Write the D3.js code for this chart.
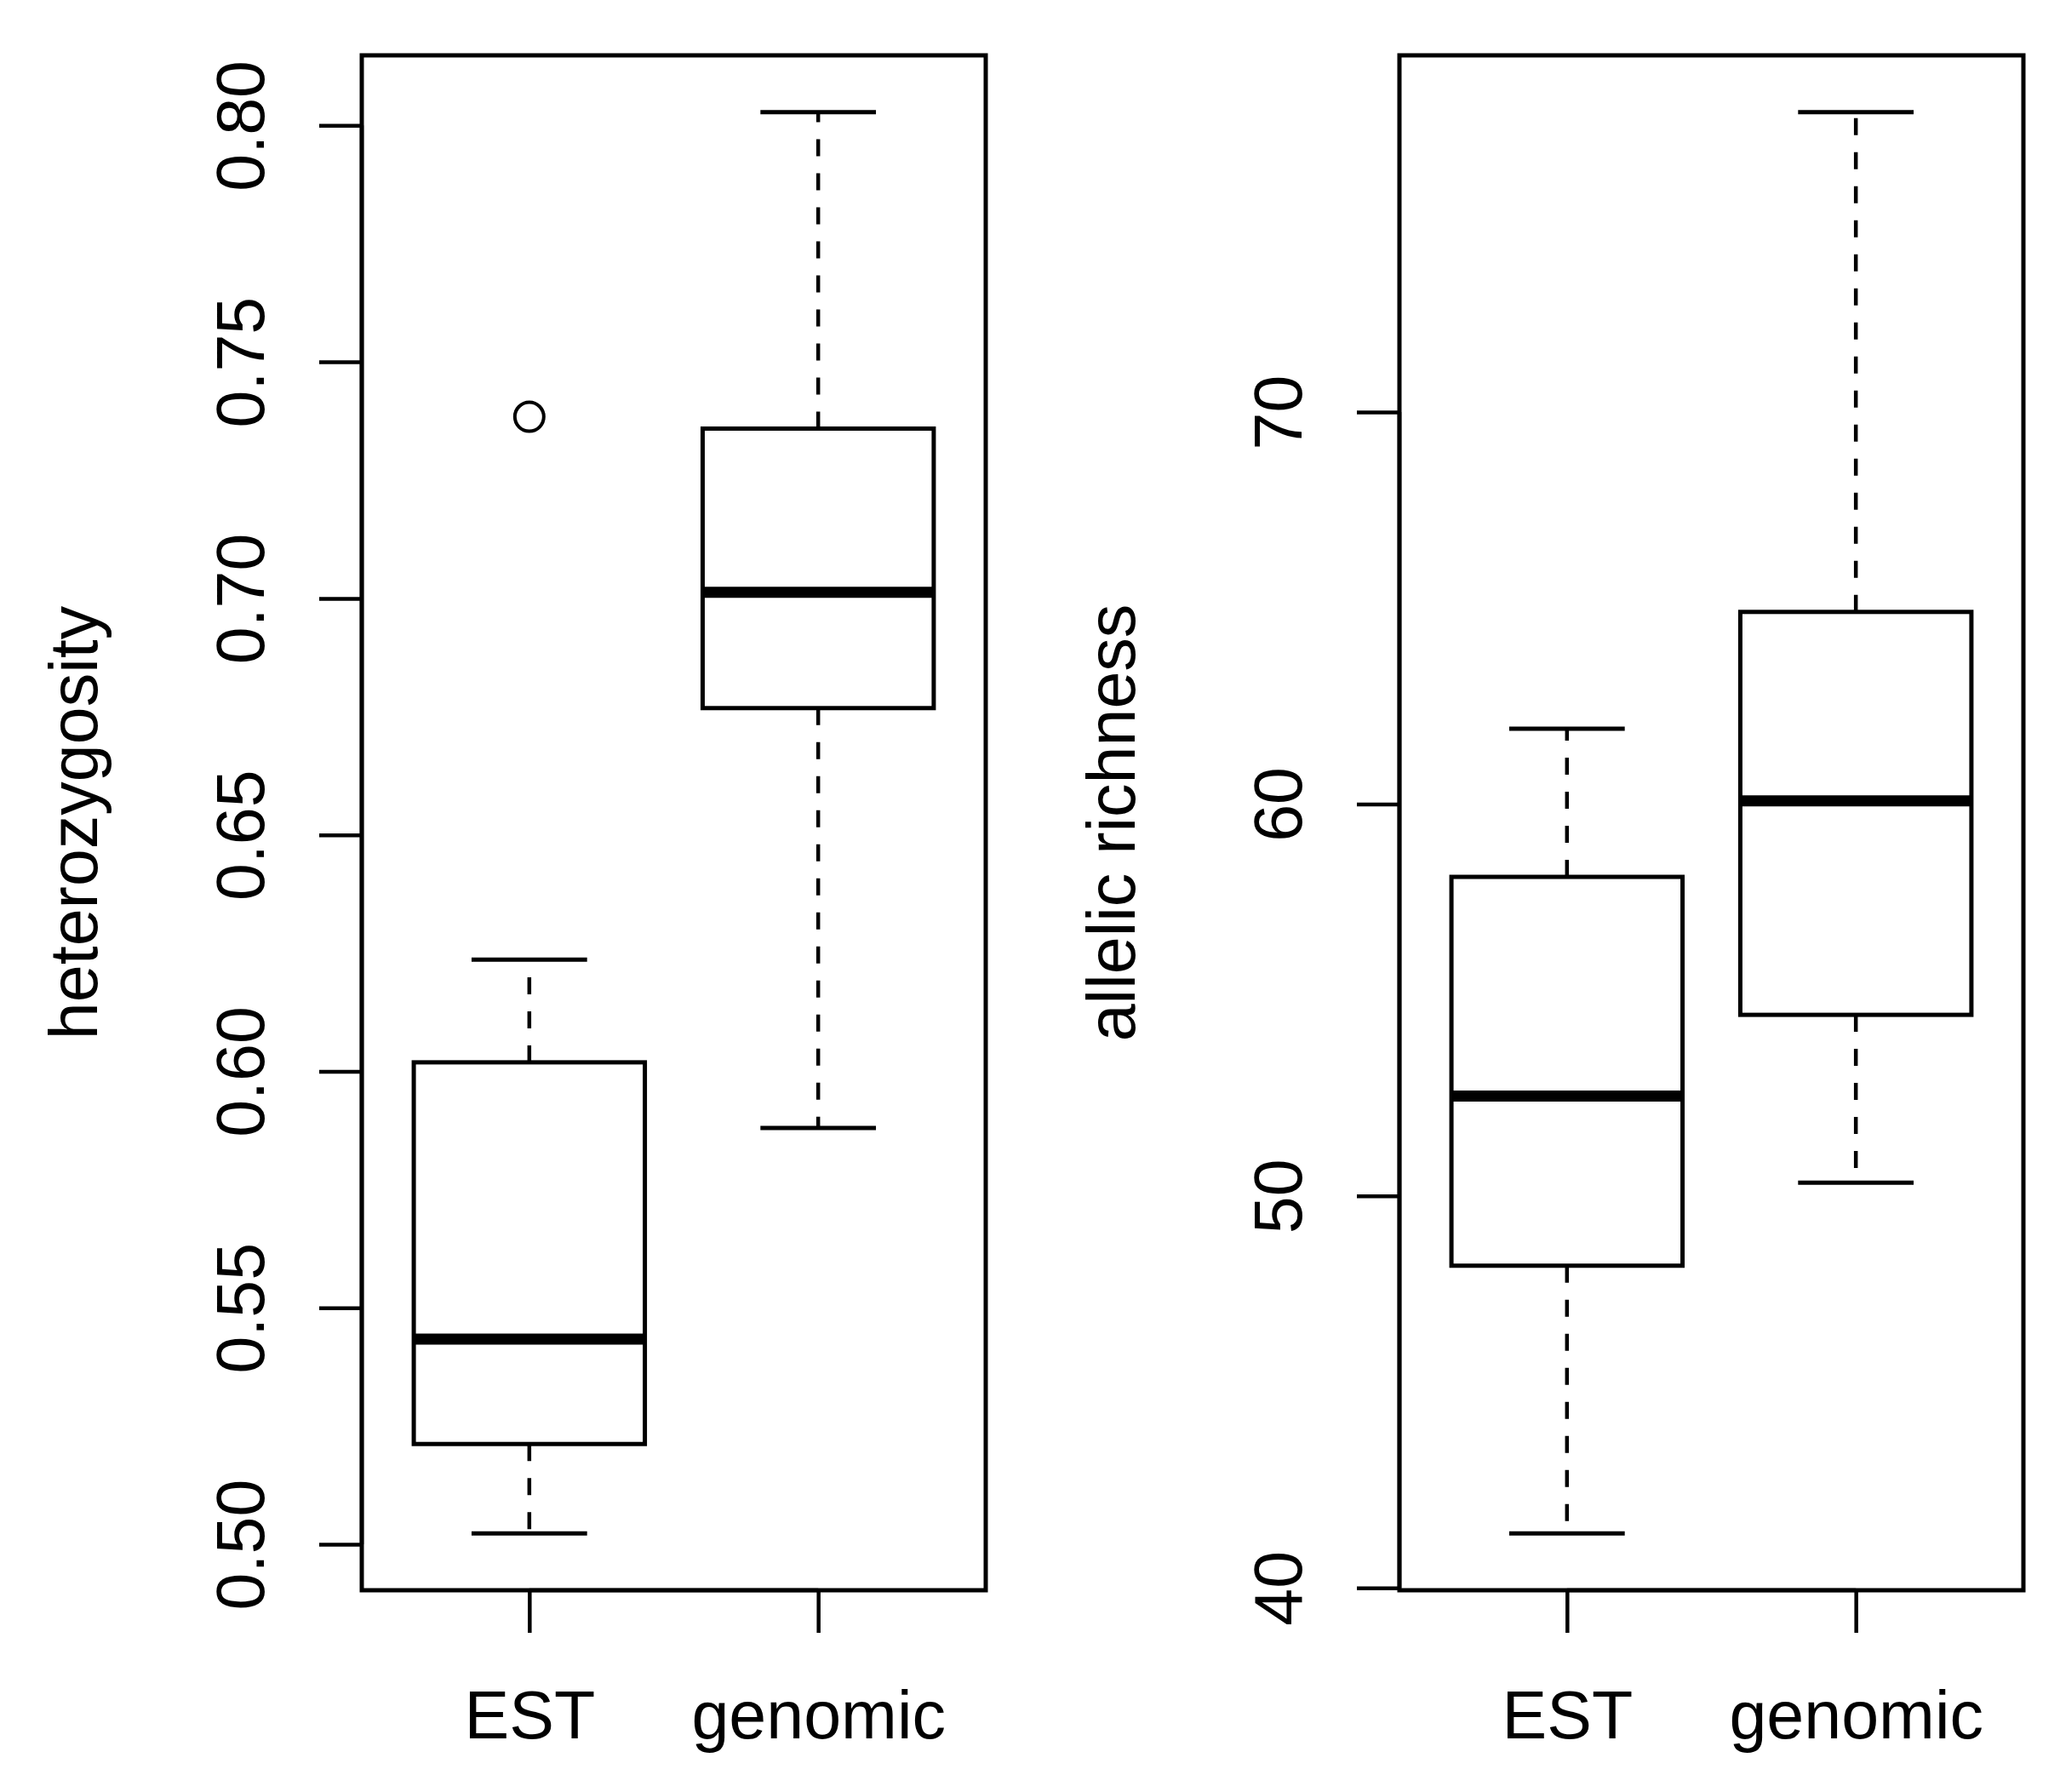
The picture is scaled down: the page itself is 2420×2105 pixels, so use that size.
<!DOCTYPE html>
<html>
<head>
<meta charset="utf-8">
<script src="https://cdn.jsdelivr.net/npm/d3@7"></script>
<style>
  body { margin: 0; background: #fff; }
  text { font-family: "Liberation Sans", Arial, sans-serif; fill: #000; }
</style>
</head>
<body>
<svg id="chart" width="2420" height="2105"></svg>
<script>
// groups on the x axis
const categories = ['EST', 'genomic'];

// heterozygosity boxplot stats (per category)
const hetLower = [0.5023, 0.5880];
const hetQ1 = [0.5212, 0.6768];
const hetMedian = [0.5434, 0.7013];
const hetQ3 = [0.6019, 0.7359];
const hetUpper = [0.6236, 0.8028];
const hetOutliers = [{ group: 0, value: 0.7384 }];
const hetTicks = [0.50, 0.55, 0.60, 0.65, 0.70, 0.75, 0.80];

// allelic richness boxplot stats
const arLower = [41.39, 50.34];
const arQ1 = [48.22, 54.62];
const arMedian = [52.55, 60.08];
const arQ3 = [58.14, 64.90];
const arUpper = [61.92, 77.65];
const arOutliers = [];
const arTicks = [40, 50, 60, 70];

const svg = d3.select('#chart');
svg.append('rect').attr('width', 2420).attr('height', 2105).attr('fill', '#fff');

const plotTop = 65, plotBottom = 1868;
const fontSize = 79;

function drawPanel(cfg) {
  const g = svg.append('g');

  // R style range: pad data range by 4% each side
  const all = cfg.lower.concat(cfg.upper, cfg.outliers.map(d => d.value));
  const lo = d3.min(all), hi = d3.max(all);
  const pad = (hi - lo) * 0.04;
  const y = d3.scaleLinear().domain([lo - pad, hi + pad]).range([plotBottom, plotTop]);
  const x = d3.scaleLinear().domain([0.42, 2.58]).range([cfg.left, cfg.right]);

  const stats = categories.map((c, i) => ({
    pos: i + 1,
    lower: cfg.lower[i], q1: cfg.q1[i], median: cfg.median[i], q3: cfg.q3[i], upper: cfg.upper[i]
  }));

  stats.forEach(s => {
    // whiskers (dashed)
    g.append('line')
      .attr('x1', x(s.pos)).attr('x2', x(s.pos))
      .attr('y1', y(s.q3)).attr('y2', y(s.upper))
      .attr('stroke', '#000').attr('stroke-width', 4.5)
      .attr('stroke-dasharray', '20,20');
    g.append('line')
      .attr('x1', x(s.pos)).attr('x2', x(s.pos))
      .attr('y1', y(s.q1)).attr('y2', y(s.lower))
      .attr('stroke', '#000').attr('stroke-width', 4.5)
      .attr('stroke-dasharray', '20,20');
    // staples
    [s.upper, s.lower].forEach(v => {
      g.append('line')
        .attr('x1', x(s.pos - 0.2)).attr('x2', x(s.pos + 0.2))
        .attr('y1', y(v)).attr('y2', y(v))
        .attr('stroke', '#000').attr('stroke-width', 5);
    });
    // box
    g.append('rect')
      .attr('x', x(s.pos - 0.4))
      .attr('y', y(s.q3))
      .attr('width', x(s.pos + 0.4) - x(s.pos - 0.4))
      .attr('height', y(s.q1) - y(s.q3))
      .attr('fill', '#fff')
      .attr('stroke', '#000').attr('stroke-width', 5);
    // median
    g.append('line')
      .attr('x1', x(s.pos - 0.4)).attr('x2', x(s.pos + 0.4))
      .attr('y1', y(s.median)).attr('y2', y(s.median))
      .attr('stroke', '#000').attr('stroke-width', 13);
  });

  // outliers
  g.selectAll('circle.out')
    .data(cfg.outliers)
    .join('circle')
    .attr('class', 'out')
    .attr('cx', d => x(d.group + 1))
    .attr('cy', d => y(d.value))
    .attr('r', 17)
    .attr('fill', 'none')
    .attr('stroke', '#000').attr('stroke-width', 4);

  // plot frame
  g.append('rect')
    .attr('x', cfg.left).attr('y', plotTop)
    .attr('width', cfg.right - cfg.left).attr('height', plotBottom - plotTop)
    .attr('fill', 'none')
    .attr('stroke', '#000').attr('stroke-width', 5);

  // y axis
  const yAxis = g.append('g')
    .attr('transform', `translate(${cfg.left},0)`)
    .call(d3.axisLeft(y).tickValues(cfg.ticks).tickFormat(cfg.format).tickSize(50));
  yAxis.select('.domain')
    .attr('d', `M0,${y(d3.min(cfg.ticks))}V${y(d3.max(cfg.ticks))}`)
    .attr('stroke-width', 4.5);
  yAxis.selectAll('.tick line').attr('stroke-width', 4.5);
  yAxis.selectAll('.tick text')
    .attr('x', 0).attr('y', -115).attr('dy', null)
    .attr('transform', 'rotate(-90)')
    .attr('text-anchor', 'middle')
    .style('font-size', fontSize + 'px')
    .style('font-family', '"Liberation Sans", Arial, sans-serif');

  // x axis
  const xAxis = g.append('g')
    .attr('transform', `translate(0,${plotBottom})`)
    .call(d3.axisBottom(x).tickValues([1, 2]).tickFormat(d => categories[d - 1]).tickSize(50));
  xAxis.select('.domain')
    .attr('d', `M${x(1)},0H${x(2)}`)
    .attr('stroke-width', 4.5);
  xAxis.selectAll('.tick line').attr('stroke-width', 4.5);
  xAxis.selectAll('.tick text')
    .attr('y', 174).attr('dy', null)
    .style('font-size', fontSize + 'px')
    .style('font-family', '"Liberation Sans", Arial, sans-serif');

  // y title
  g.append('text')
    .attr('transform', `translate(${cfg.left - 311},${(plotTop + plotBottom) / 2}) rotate(-90)`)
    .attr('text-anchor', 'middle')
    .style('font-size', fontSize + 'px')
    .text(cfg.title);
}

drawPanel({
  left: 425, right: 1158,
  lower: hetLower, q1: hetQ1, median: hetMedian, q3: hetQ3, upper: hetUpper,
  outliers: hetOutliers, ticks: hetTicks, format: d3.format('.2f'),
  title: 'heterozygosity'
});

drawPanel({
  left: 1644, right: 2377,
  lower: arLower, q1: arQ1, median: arMedian, q3: arQ3, upper: arUpper,
  outliers: arOutliers, ticks: arTicks, format: d3.format('d'),
  title: 'allelic richness'
});
</script>
</body>
</html>
